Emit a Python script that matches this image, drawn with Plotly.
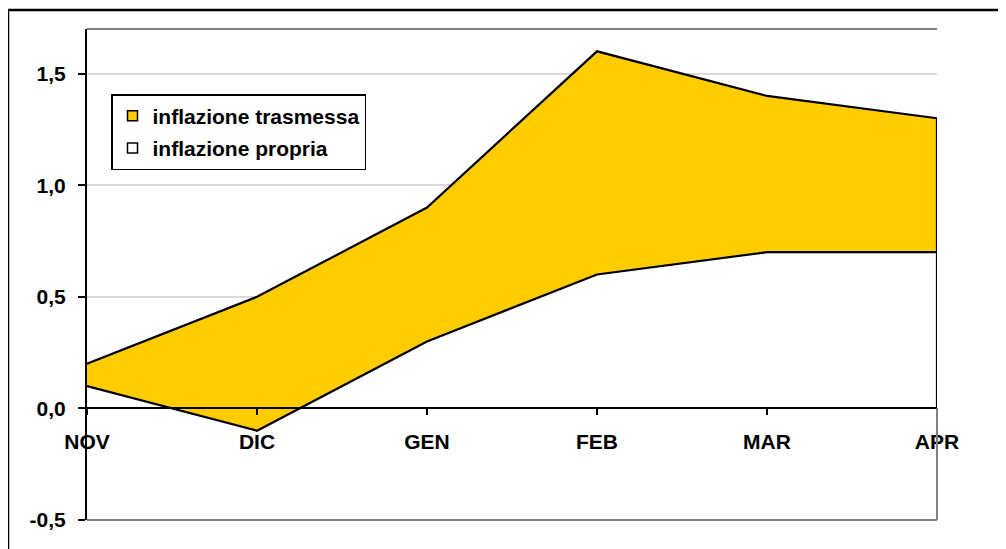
import plotly.graph_objects as go

categories = ["NOV", "DIC", "GEN", "FEB", "MAR", "APR"]
inflazione_propria = [0.1, -0.1, 0.3, 0.6, 0.7, 0.7]
inflazione_trasmessa = [0.1, 0.6, 0.6, 1.0, 0.7, 0.6]
y_ticks = [-0.5, 0.0, 0.5, 1.0, 1.5]
y_tick_labels = ["-0,5", "0,0", "0,5", "1,0", "1,5"]

YELLOW = "#FFCC00"
FONT = dict(family="Liberation Sans", size=21, color="black")


def b(s):
    return "<b>" + s + "</b>"


top_line = [p + t for p, t in zip(inflazione_propria, inflazione_trasmessa)]

fig = go.Figure()
fig.add_trace(go.Scatter(
    x=categories, y=inflazione_propria, stackgroup="one", mode="lines",
    line=dict(color="black", width=2.2), fillcolor="white",
    name="inflazione propria", showlegend=False, hoverinfo="skip"))
fig.add_trace(go.Scatter(
    x=categories, y=inflazione_trasmessa, stackgroup="one", mode="lines",
    line=dict(color="black", width=2.2), fillcolor=YELLOW,
    name="inflazione trasmessa", showlegend=False, hoverinfo="skip"))
# right vertical outline of the stacked area
fig.add_trace(go.Scatter(
    x=[categories[-1], categories[-1]], y=[0, top_line[-1]], mode="lines",
    line=dict(color="black", width=2.2), showlegend=False, hoverinfo="skip"))

# legend entries
fig.add_trace(go.Scatter(
    x=[None], y=[None], mode="markers", name=b("inflazione trasmessa"),
    legendgroup="a",
    marker=dict(symbol="square", size=10, color=YELLOW, line=dict(color="black", width=1.5))))
fig.add_trace(go.Scatter(
    x=[None], y=[None], mode="markers", name=b("inflazione propria"),
    legendgroup="b",
    marker=dict(symbol="square", size=10, color="white", line=dict(color="black", width=1.5))))

# page body has an 8px margin, so compensate
OFF = 8
W, H = 1006 - OFF, 549 - OFF
L, T = 87 - OFF, 29 - OFF
pw, ph = 850, 491
R, B = W - L - pw, H - T - ph
y0, y1 = -0.5, 1.7
zero_pos = (0 - y0) / (y1 - y0)

fig.update_layout(
    width=W, height=H,
    margin=dict(l=L, r=R, t=T, b=B, pad=0),
    paper_bgcolor="white", plot_bgcolor="white",
    font=FONT,
    showlegend=True,
    legend=dict(
        x=(111 - 87) / pw, y=(520 - 94) / ph, xanchor="left", yanchor="top",
        bgcolor="white", bordercolor="black", borderwidth=1.5,
        font=FONT, tracegroupgap=2, itemwidth=30,
    ),
    xaxis=dict(
        type="category", range=[0, len(categories) - 1],
        tickvals=categories, ticktext=[b(c) for c in categories],
        anchor="free", position=zero_pos,
        showline=True, linecolor="black", linewidth=2,
        ticks="outside", ticklen=6, tickwidth=2, tickcolor="black",
        showgrid=False, zeroline=False,
        tickfont=FONT, ticklabelstandoff=8,
    ),
    yaxis=dict(
        range=[y0, y1], tickvals=y_ticks, ticktext=[b(t) for t in y_tick_labels],
        showline=True, linecolor="black", linewidth=2,
        ticks="outside", ticklen=7, tickwidth=2, tickcolor="black",
        showgrid=True, gridcolor="#D9D9D9", gridwidth=1.5,
        zeroline=False, tickfont=FONT, ticklabelstandoff=8,
    ),
    shapes=[
        # plot frame (top, right, bottom) in gray
        dict(type="line", xref="paper", yref="paper", x0=0, x1=1, y0=1, y1=1,
             line=dict(color="#808080", width=2)),
        dict(type="line", xref="paper", yref="paper", x0=1, x1=1, y0=0, y1=zero_pos,
             line=dict(color="#808080", width=2)),
        dict(type="line", xref="paper", yref="paper", x0=0, x1=1, y0=0, y1=0,
             line=dict(color="#808080", width=2)),
        # outer chart border
        dict(type="rect", xref="paper", yref="paper",
             x0=(8 - 87) / pw, x1=(1016 - 87) / pw,
             y0=(520 - 560) / ph, y1=(520 - 10) / ph,
             line=dict(color="black", width=2.5)),
    ],
)

fig.write_html("out.html")
